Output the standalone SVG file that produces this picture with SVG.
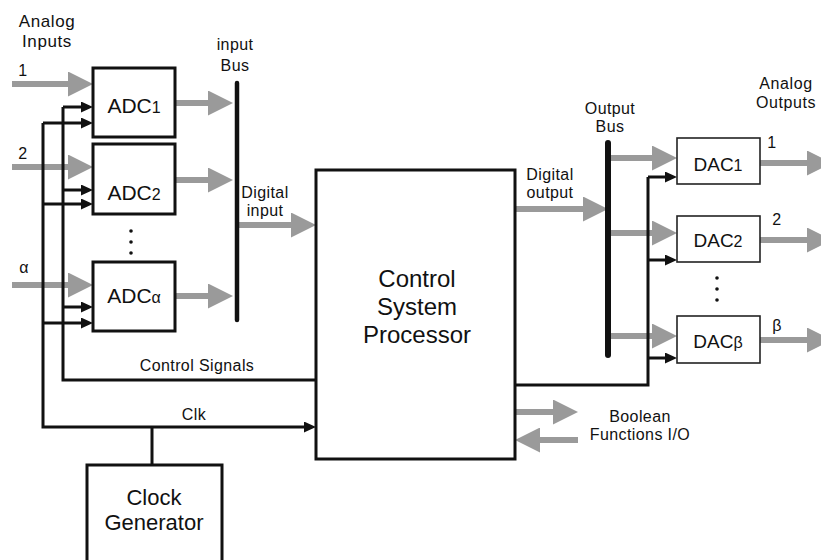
<svg xmlns="http://www.w3.org/2000/svg" width="821" height="560" viewBox="0 0 821 560">
<style>
.box{fill:#fff;stroke:#111;stroke-width:3}
.dbox{fill:#fff;stroke:#222;stroke-width:1.6}
.g{fill:none;stroke:#9a9a9a;stroke-width:6}
.k{fill:none;stroke:#111;stroke-width:3}
.bus{stroke:#111;stroke-linecap:round}
text{font-family:"Liberation Sans",Arial,sans-serif;fill:#111}
.lbl{font-size:16px;text-anchor:middle;letter-spacing:0.4px}
.big{font-size:17px;text-anchor:middle;letter-spacing:0.6px}
.out{font-size:16px;text-anchor:middle;letter-spacing:0.6px}
.adc{font-size:21px;text-anchor:middle}
.dac{font-size:19px;text-anchor:middle}
.csp{font-size:24px;text-anchor:middle}
.clk{font-size:22px;text-anchor:middle}
.sub{font-size:16px}
</style>
<defs>
<marker id="ga" markerUnits="userSpaceOnUse" markerWidth="25" markerHeight="25" refX="0" refY="12.5" orient="auto" viewBox="0 0 25 25"><path d="M0,0 L25,12.5 L0,25 z" fill="#9a9a9a"/></marker>
<marker id="ba" markerUnits="userSpaceOnUse" markerWidth="12" markerHeight="11" refX="0" refY="5.5" orient="auto" viewBox="0 0 12 11"><path d="M0,0 L12,5.5 L0,11 z" fill="#111"/></marker>
</defs>

<g id="connectors">
<!-- analog inputs -->
<path class="g" d="M12,84 H68" marker-end="url(#ga)"/>
<path class="g" d="M12,167 H68" marker-end="url(#ga)"/>
<path class="g" d="M12,285 H68" marker-end="url(#ga)"/>
<!-- ADC outputs to input bus -->
<path class="g" d="M176,103 H208" marker-end="url(#ga)"/>
<path class="g" d="M176,180 H208" marker-end="url(#ga)"/>
<path class="g" d="M176,296 H208" marker-end="url(#ga)"/>
<!-- digital input -->
<path class="g" d="M237,225 H291" marker-end="url(#ga)"/>
<!-- digital output -->
<path class="g" d="M515,209 H583" marker-end="url(#ga)"/>
<!-- output bus to DACs -->
<path class="g" d="M608,158 H652" marker-end="url(#ga)"/>
<path class="g" d="M608,233 H652" marker-end="url(#ga)"/>
<path class="g" d="M608,336 H652" marker-end="url(#ga)"/>
<!-- DAC outputs -->
<path class="g" d="M760,163 H807" marker-end="url(#ga)"/>
<path class="g" d="M760,240 H807" marker-end="url(#ga)"/>
<path class="g" d="M760,340 H807" marker-end="url(#ga)"/>
<!-- boolean I/O -->
<path class="g" d="M515,412 H553" marker-end="url(#ga)"/>
<path class="g" d="M578,440 H540" marker-end="url(#ga)"/>
<!-- control signals -->
<path class="k" d="M316,380 H63 V107"/>
<path class="k" d="M63,107 H81" marker-end="url(#ba)"/>
<path class="k" d="M63,190 H81" marker-end="url(#ba)"/>
<path class="k" d="M63,307 H81" marker-end="url(#ba)"/>
<!-- clock -->
<path class="k" d="M43,123 V427 H304" marker-end="url(#ba)"/>
<path class="k" d="M43,123 H81" marker-end="url(#ba)"/>
<path class="k" d="M43,204 H81" marker-end="url(#ba)"/>
<path class="k" d="M43,323 H81" marker-end="url(#ba)"/>
<path class="k" d="M152,427 V465"/>
<!-- DAC control -->
<path class="k" d="M515,385 H648 V177"/>
<path class="k" d="M648,177 H665" marker-end="url(#ba)"/>
<path class="k" d="M648,260 H665" marker-end="url(#ba)"/>
<path class="k" d="M648,358 H665" marker-end="url(#ba)"/>
</g>

<g id="adc1"><rect class="box" x="93" y="68" width="82" height="69"/><text class="adc" x="134" y="113">ADC<tspan class="sub">1</tspan></text></g>
<g id="adc2"><rect class="box" x="93" y="144" width="82" height="70"/><text class="adc" x="134" y="200">ADC<tspan class="sub">2</tspan></text></g>
<g id="adc-dots"><circle cx="131" cy="231" r="1.8" fill="#111"/><circle cx="131" cy="242" r="1.8" fill="#111"/><circle cx="131" cy="253" r="1.8" fill="#111"/></g>
<g id="adca"><rect class="box" x="93" y="262" width="82" height="69"/><text class="adc" x="134" y="303">ADC<tspan class="sub">α</tspan></text></g>

<g id="input-bus"><line class="bus" x1="237" y1="83" x2="237" y2="320" stroke-width="4.5"/><text class="lbl" x="235" y="50">input</text><text class="lbl" x="235" y="71">Bus</text></g>

<g id="csp"><rect class="box" x="316" y="170" width="199" height="289"/><text class="csp" x="417" y="287">Control</text><text class="csp" x="417" y="315">System</text><text class="csp" x="417" y="343">Processor</text></g>

<g id="output-bus"><line class="bus" x1="608" y1="143" x2="608" y2="355" stroke-width="6"/><text class="lbl" x="610" y="114">Output</text><text class="lbl" x="610" y="132">Bus</text></g>

<g id="dac1"><rect class="dbox" x="677" y="138" width="83" height="46"/><text class="dac" x="718" y="171">DAC<tspan class="sub">1</tspan></text></g>
<g id="dac2"><rect class="dbox" x="677" y="216" width="83" height="46"/><text class="dac" x="718" y="247">DAC<tspan class="sub">2</tspan></text></g>
<g id="dac-dots"><circle cx="717" cy="278" r="1.8" fill="#111"/><circle cx="717" cy="289" r="1.8" fill="#111"/><circle cx="717" cy="300" r="1.8" fill="#111"/></g>
<g id="dacb"><rect class="dbox" x="677" y="316" width="83" height="47"/><text class="dac" x="718" y="348">DAC<tspan class="sub">β</tspan></text></g>

<g id="clock-generator"><rect class="box" x="87" y="465" width="135" height="110"/><text class="clk" x="154" y="505">Clock</text><text class="clk" x="154" y="530">Generator</text></g>

<g id="labels">
<text class="big" x="47" y="27">Analog</text>
<text class="big" x="47" y="47">Inputs</text>
<text class="lbl" x="23" y="76">1</text>
<text class="lbl" x="23" y="159">2</text>
<text class="lbl" x="24" y="273">α</text>
<text class="lbl" x="265" y="198">Digital</text>
<text class="lbl" x="265" y="216">input</text>
<text class="lbl" x="550" y="180">Digital</text>
<text class="lbl" x="550" y="198">output</text>
<text class="lbl" x="197" y="371">Control Signals</text>
<text class="lbl" x="194" y="420">Clk</text>
<text class="out" x="786" y="89">Analog</text>
<text class="out" x="786" y="108">Outputs</text>
<text class="lbl" x="772" y="148">1</text>
<text class="lbl" x="777" y="225">2</text>
<text class="lbl" x="777" y="331">β</text>
<text class="lbl" x="640" y="422">Boolean</text>
<text class="lbl" x="640" y="440">Functions I/O</text>
</g>
</svg>
